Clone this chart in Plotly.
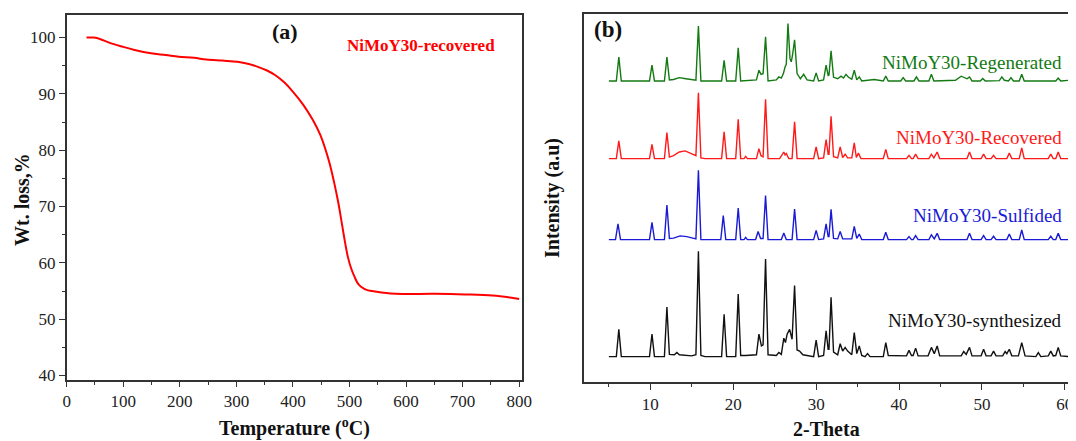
import plotly.graph_objects as go

# ---------------- (a) TGA data ----------------
temp = [35, 48, 60, 75, 98, 120, 149, 175, 198, 225, 247, 275, 302, 322, 338, 355, 369, 385, 399, 418,
        435, 448, 457, 465, 473, 480, 485, 491, 497, 503, 509, 515, 521, 530, 540, 560, 582, 650, 704, 753, 800]
wt = [100.0, 100.0, 99.7, 99.1, 98.4, 97.8, 97.2, 96.9, 96.6, 96.4, 96.1, 95.9, 95.7, 95.3, 94.8, 94.1, 93.3,
      92.0, 90.5, 88.1, 85.4, 82.8, 80.3, 77.6, 74.2, 70.8, 67.9, 64.3, 61.1, 59.0, 57.5, 56.3, 55.7, 55.2,
      55.0, 54.7, 54.5, 54.5, 54.4, 54.2, 53.6]

# ---------------- (b) XRD data: (2-theta, intensity above own baseline) ----------------
regen_pts = [(5.0,0),(5.9,0),(6.2,6.5),(6.5,0),(9.9,0),(10.2,4.3),(10.5,0),(11.7,0),(12.0,6.5),(12.3,0.3),
    (12.8,0.4),(13.5,0.9),(14.3,0.6),(15.5,0.2),(15.8,14.9),(16.1,0),(18.6,0),(18.9,5.6),(19.2,0),(20.3,0),
    (20.6,9.0),(20.9,0),(22.8,0.3),(23.1,2.9),(23.35,1.8),(23.6,2.0),(23.9,12.0),(24.2,0),(25.2,0.3),(25.5,1.1),
    (25.8,0.8),(26.05,2.0),(26.25,3.8),(26.4,4.5),(26.6,15.6),(26.85,6.0),(27.0,5.2),(27.15,7.0),(27.4,11.2),
    (27.7,2.0),(28.1,0.6),(28.5,1.8),(28.9,0.3),(29.7,0),(30.0,2.2),(30.3,0),(30.9,0.3),(31.2,4.3),(31.45,1.5),
    (31.55,1.6),(31.8,8.2),(32.1,1.0),(32.6,0.6),(33.0,1.3),(33.3,0.8),(33.6,1.8),(33.9,1.0),(34.3,0.5),
    (34.6,2.9),(34.9,0.3),(35.2,1.1),(35.5,0),(37.0,0.4),(38.1,0),(38.4,1.3),(38.7,0),(40.2,0),(40.5,0.9),
    (40.8,0),(41.8,0),(42.1,1.1),(42.4,0),(43.6,0),(43.9,1.8),(44.2,0),(46.8,0.2),(47.5,1.3),(48.2,0.6),
    (48.5,1.1),(48.8,0),(49.8,0),(50.1,0.7),(50.4,0),(52.1,0.1),(52.4,1.1),(52.7,0.2),(53.2,0),(53.5,0.9),
    (53.8,0),(54.5,0),(54.8,1.8),(55.1,0),(58.9,0),(59.2,0.8),(59.5,0),(60.5,0.2)]

recov_pts = [(5.0,0),(5.9,0),(6.2,4.8),(6.5,0),(9.9,0),(10.2,3.9),(10.5,0),(11.7,0),(12.0,7.1),(12.3,0.4),
    (12.8,0.8),(13.5,1.8),(14.2,2.1),(14.9,1.5),(15.5,0.8),(15.8,17.9),(16.1,0.2),(16.6,0),(18.6,0),(18.9,7.3),
    (19.2,0),(20.3,0),(20.6,10.7),(20.9,0),(21.3,0),(21.5,0.6),(21.7,0),(22.8,0),(23.1,2.7),(23.35,0.8),
    (23.6,0.5),(23.9,16.1),(24.2,0),(25.6,0),(26.1,1.8),(26.25,1.0),(26.4,1.4),(26.7,0),(27.1,0),(27.4,10.0),
    (27.7,0),(29.7,0),(30.0,3.2),(30.3,0),(30.9,0.2),(31.2,5.2),(31.45,1.2),(31.55,1.2),(31.8,11.5),(32.1,0.5),
    (32.6,0.2),(32.9,3.2),(33.2,0.3),(33.5,1.2),(33.8,0.2),(34.3,0.2),(34.6,4.3),(34.85,0.3),(35.1,1.5),
    (35.4,0),(38.1,0),(38.4,2.5),(38.7,0),(40.9,0),(41.2,0.9),(41.5,0),(41.7,0),(42.0,1.2),(42.3,0),(43.6,0),
    (43.9,1.2),(44.2,0.2),(44.6,1.8),(44.9,0),(48.2,0),(48.5,1.8),(48.8,0),(49.9,0),(50.2,1.2),(50.5,0),
    (51.1,0),(51.4,0.9),(51.7,0),(53.0,0),(53.3,1.5),(53.6,0),(54.5,0),(54.8,2.9),(55.1,0),(58.0,0),(58.3,1.2),
    (58.6,0),(58.9,0),(59.2,1.8),(59.5,0),(60.5,0)]

sulf_pts = [(5.0,0),(5.8,0),(6.1,4.3),(6.4,0),(9.9,0),(10.2,4.7),(10.5,0),(11.7,0),(12.0,9.4),(12.3,0.3),
    (12.8,0.4),(13.6,1.0),(14.4,0.8),(15.2,0.3),(15.5,0.2),(15.8,18.8),(16.1,0),(18.5,0),(18.8,6.5),(19.1,0),
    (20.3,0),(20.6,8.6),(20.9,0),(21.3,0),(21.5,0.6),(21.7,0),(22.7,0),(23.0,2.2),(23.3,0.3),(23.6,0.3),
    (23.9,12.0),(24.2,0),(25.8,0),(26.1,1.8),(26.4,0),(27.1,0),(27.4,8.3),(27.7,0),(29.7,0),(30.0,2.5),
    (30.3,0),(30.9,0.2),(31.2,4.3),(31.45,0.8),(31.55,0.8),(31.8,8.2),(32.1,0.3),(32.6,0.2),(32.9,2.2),
    (33.2,0.2),(34.3,0.2),(34.6,3.6),(34.9,0.3),(35.2,1.5),(35.5,0),(38.1,0),(38.4,2.0),(38.7,0),(40.9,0),
    (41.2,0.8),(41.5,0),(41.7,0),(42.0,1.1),(42.3,0),(43.6,0),(43.9,1.3),(44.25,0.2),(44.6,1.7),(44.9,0),
    (48.2,0),(48.5,1.7),(48.8,0),(49.9,0),(50.2,1.1),(50.5,0),(51.1,0),(51.4,0.9),(51.7,0),(53.0,0),(53.3,1.5),
    (53.6,0),(54.5,0),(54.8,2.6),(55.1,0),(58.0,0),(58.3,0.9),(58.6,0),(58.9,0),(59.2,1.7),(59.5,0),(60.5,0)]

synth_pts = [(5.0,0),(5.9,0),(6.2,7.4),(6.5,0),(9.9,0),(10.2,6.1),(10.5,0),(11.7,0),(12.0,13.5),(12.3,0.6),
    (12.9,0.5),(13.2,1.1),(13.5,0.5),(15.0,0.2),(15.5,0.5),(15.8,28.6),(16.1,0.3),(16.6,0),(18.6,0),(18.9,11.5),
    (19.2,0),(20.3,0),(20.6,17.0),(20.9,0.3),(21.5,0.3),(22.8,0.5),(23.1,6.1),(23.4,2.9),(23.6,3.2),(23.9,26.5),
    (24.2,0.5),(25.2,0.3),(25.5,1.1),(25.8,0.6),(26.1,5.0),(26.3,3.8),(26.5,6.1),(26.8,7.4),(27.1,4.7),
    (27.4,19.3),(27.7,1.8),(28.0,1.5),(28.4,0.5),(29.7,0),(30.0,4.5),(30.3,0),(30.9,0.3),(31.2,7.0),(31.45,2.0),
    (31.55,2.0),(31.8,16.1),(32.1,1.2),(32.6,0.5),(32.9,3.5),(33.2,1.5),(33.5,2.5),(33.8,1.5),(34.3,0.5),
    (34.6,6.5),(34.9,0.8),(35.2,2.9),(35.5,0.3),(35.9,0),(36.2,0.8),(36.5,0),(38.1,0),(38.4,3.8),(38.7,0.3),
    (40.9,0.2),(41.2,1.7),(41.5,0.3),(41.7,0.3),(42.0,2.3),(42.3,0.2),(43.5,0.2),(43.9,2.5),(44.25,0.8),
    (44.6,2.9),(44.9,0.2),(47.5,0.2),(47.8,1.4),(48.1,0.6),(48.5,2.5),(48.8,0.2),(49.9,0.2),(50.2,2.0),
    (50.5,0.2),(51.1,0.2),(51.4,1.5),(51.7,0.2),(52.5,0.2),(52.8,1.4),(53.0,0.8),(53.3,2.0),(53.6,0.2),
    (54.4,0.2),(54.8,3.8),(55.2,0.2),(56.5,0),(56.8,1.1),(57.1,0),(58.0,0.2),(58.3,1.5),(58.6,0.2),(58.9,0.3),
    (59.2,2.5),(59.5,0.2),(60.5,0)]

series_names = ["NiMoY30-Regenerated", "NiMoY30-Recovered", "NiMoY30-Sulfided", "NiMoY30-synthesized"]
series_pts = [regen_pts, recov_pts, sulf_pts, synth_pts]
series_offsets = [81.8, 60.7, 38.7, 6.9]
series_colors = ["#137a13", "#ff1a1a", "#1a1ad6", "#111111"]
label_y = [62, 137, 215, 320]  # pixel rows of the in-plot labels

# The page body has a default 8px margin, so the figure is drawn 8px in from the window corner.
PAGE_W, PAGE_H, BODY = 1076, 441, 8
W, H = PAGE_W - BODY, PAGE_H - BODY
FONT = "Liberation Serif"

def px(x):
    return (x - BODY) / W

def py(y):
    return (H - (y - BODY)) / H

fig = go.Figure()

fig.add_trace(go.Scatter(x=temp, y=wt, mode="lines", line=dict(color="#ff0000", width=2, shape="spline", smoothing=1.0),
                         xaxis="x", yaxis="y", showlegend=False))

for name, pts, off, col in zip(series_names, series_pts, series_offsets, series_colors):
    xs = [p[0] for p in pts]
    ys = [p[1] + off for p in pts]
    fig.add_trace(go.Scatter(x=xs, y=ys, mode="lines", line=dict(color=col, width=1.4),
                             xaxis="x2", yaxis="y2", showlegend=False, name=name))

axis_common = dict(showline=True, linecolor="#333333", linewidth=1.6, mirror=True, showgrid=False,
                   zeroline=False, tickfont=dict(family=FONT, size=17, color="#222222"),
                   ticks="outside", tickcolor="#333333", tickwidth=1.3, automargin=False)

fig.update_layout(
    width=W, height=H, margin=dict(l=0, r=0, t=0, b=0, autoexpand=False),
    paper_bgcolor="white", plot_bgcolor="white", showlegend=False,
    xaxis=dict(domain=[px(66.7), px(522)], range=[0, 805], dtick=100, ticklen=5,
               minor=dict(dtick=50, ticks="outside", ticklen=3, tickcolor="#333333"),
               anchor="y", **axis_common),
    yaxis=dict(domain=[py(380), py(15)], range=[39.2, 104], dtick=10, ticklen=6,
               minor=dict(dtick=5, ticks="outside", ticklen=3, tickcolor="#333333"),
               anchor="x", **axis_common),
    xaxis2=dict(domain=[px(584), px(1069)], range=[2.0, 60.5], dtick=10, ticklen=6,
                minor=dict(dtick=5, ticks="outside", ticklen=3, tickcolor="#333333"),
                anchor="y2", **axis_common),
    yaxis2=dict(domain=[py(382), py(14)], range=[0, 100], anchor="x2", automargin=False,
                showline=True, linecolor="#333333", linewidth=1.6, mirror=True, showgrid=False,
                zeroline=False, showticklabels=False, ticks=""),
)

ann = []
ann.append(dict(text="<b>(a)</b>", x=px(285), y=py(31), font=dict(family=FONT, size=22, color="#111")))
ann.append(dict(text="<b>NiMoY30-recovered</b>", x=px(421), y=py(45), font=dict(family=FONT, size=17, color="#ff0000")))
ann.append(dict(text="<b>(b)</b>", x=px(608), y=py(30), font=dict(family=FONT, size=23, color="#111")))
ann.append(dict(text="<b>Wt. loss,%</b>", x=px(22), y=py(200), textangle=-90, font=dict(family=FONT, size=20, color="#111")))
ann.append(dict(text="<b>Temperature (<sup>o</sup>C)</b>", x=px(294), y=py(427), font=dict(family=FONT, size=20, color="#111")))
ann.append(dict(text="<b>Intensity (a.u)</b>", x=px(552), y=py(198), textangle=-90, font=dict(family=FONT, size=20, color="#111")))
ann.append(dict(text="<b>2-Theta</b>", x=px(826), y=py(429), font=dict(family=FONT, size=20, color="#111")))
for name, col, ly in zip(series_names, series_colors, label_y):
    ann.append(dict(text=name, x=px(1064), y=py(ly), xanchor="right", font=dict(family=FONT, size=19, color=col)))

for a in ann:
    a.setdefault("xanchor", "center")
    a.update(xref="paper", yref="paper", yanchor="middle", showarrow=False)
fig.update_layout(annotations=ann)

fig.write_html("out.html")
